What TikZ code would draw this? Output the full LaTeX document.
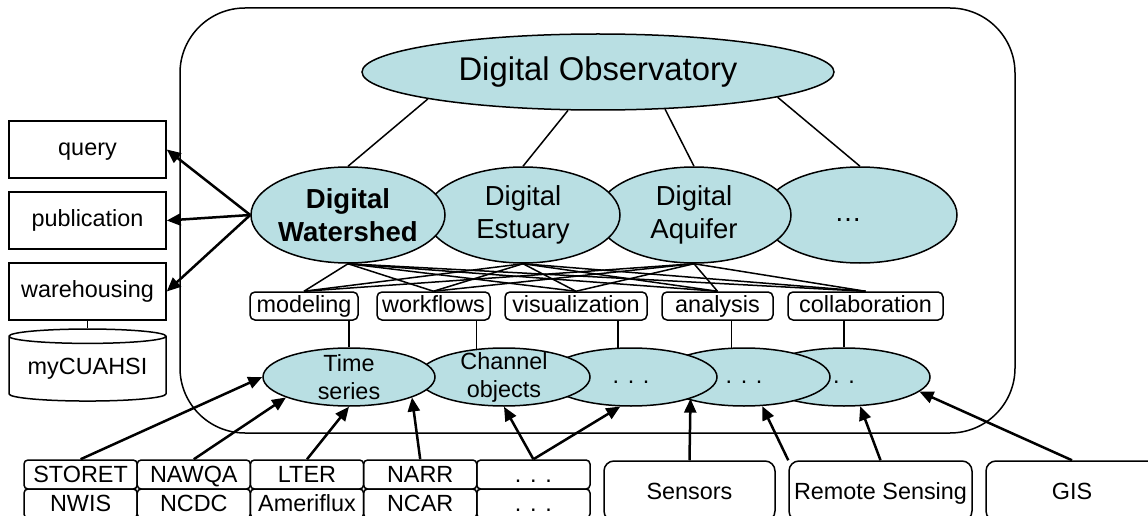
\documentclass[tikz,border=0pt]{standalone}
\usepackage{fontspec}
\setmainfont{Liberation Sans}
\usetikzlibrary{shapes.geometric,arrows.meta}
\definecolor{obsblue}{RGB}{185,223,227}

\begin{document}
\begin{tikzpicture}[
  x=1pt, y=-1pt,
  line width=1.5pt,
  every node/.style={inner sep=0pt, font=\fontsize{23.4}{28}\selectfont},
  oval/.style={ellipse, draw, fill=obsblue},
  bigoval/.style={oval, minimum width=472pt, minimum height=76pt,
    font=\fontsize{32.8}{39}\selectfont},
  midoval/.style={oval, minimum width=194pt, minimum height=96pt},
  lowoval/.style={oval, minimum width=172pt, minimum height=58pt},
  inside/.style={align=center, font=\fontsize{27.5}{33}\selectfont},
  boldinside/.style={inside, font=\fontsize{27.5}{33}\selectfont\bfseries},
  dots/.style={text height=17pt, text depth=5pt},
  plainbox/.style={draw, minimum width=157pt, minimum height=57pt,
    text height=17pt, text depth=5pt},
  toolbox/.style={draw, rounded corners=5pt, minimum height=28pt,
    text height=17pt, text depth=5pt},
  cell/.style={draw, rounded corners=4pt, minimum width=113.2pt,
    minimum height=29pt, text height=16.8pt, text depth=0pt},
  srcbox/.style={draw, rounded corners=10pt, minimum height=60pt,
    text height=16.8pt, text depth=0pt},
  feed/.style={line width=2.5pt, -{Triangle[length=14pt,width=12pt]}}]
  \useasboundingbox (0,0) rectangle (1148,516);

  % frame of the observatory
  \draw[rounded corners=65pt] (180,8) rectangle (1015,433);

  % outputs on the left
  \node[plainbox] (query) at (87.5,149.5) {query};
  \node[plainbox] (publication) at (87.5,220.5) {publication};
  \node[plainbox] (warehousing) at (87.5,291.5) {warehousing};
  \node[draw, cylinder, shape border rotate=90, aspect=0.12,
    minimum width=157pt, minimum height=72pt] (mycuahsi) at (87.5,369) {myCUAHSI};

  % observatory levels
  \node[bigoval] (obs) at (598,72) {Digital Observatory};

  \node[midoval, label={[inside,dots,xshift=-12pt]center:…}] (more) at (860,215) {};
  \node[midoval, label={[inside]center:Digital\\Aquifer}] (aquifer) at (694,215) {};
  \node[midoval, label={[inside]center:Digital\\Estuary}] (estuary) at (523,215) {};
  \node[midoval, label={[boldinside]center:Digital\\Watershed}] (watershed) at (348,215) {};

  \node[toolbox, minimum width=108pt] (modeling) at (304,306) {modeling};
  \node[toolbox, minimum width=113pt] (workflows) at (433.5,306) {workflows};
  \node[toolbox, minimum width=142pt] (visualization) at (576,306) {visualization};
  \node[toolbox, minimum width=111pt] (analysis) at (717.5,306) {analysis};
  \node[toolbox, minimum width=155pt] (collaboration) at (865.5,306) {collaboration};

  \node[lowoval, label={[dots]center:. .}] (dots3) at (844,377) {};
  \node[lowoval, label={[dots]center:. . .}] (dots2) at (744,377) {};
  \node[lowoval, label={[dots]center:. . .}] (dots1) at (631,377) {};
  \node[lowoval, label={[align=center]center:Channel\\objects}] (channel) at (504,377) {};
  \node[lowoval, label={[align=center]center:Time\\series}] (timeseries) at (349,377) {};

  % data sources
  \node[cell] (storet) at (80.6,474.5) {STORET};
  \node[cell] (nawqa) at (193.8,474.5) {NAWQA};
  \node[cell] (lter) at (307,474.5) {LTER};
  \node[cell] (narr) at (420.2,474.5) {NARR};
  \node[cell] (srcmore) at (533.4,474.5) {. . .};
  \node[cell] (nwis) at (80.6,503.5) {NWIS};
  \node[cell] (ncdc) at (193.8,503.5) {NCDC};
  \node[cell] (ameriflux) at (307,503.5) {Ameriflux};
  \node[cell] (ncar) at (420.2,503.5) {NCAR};
  \node[cell] (srcmore2) at (533.4,503.5) {. . .};

  \node[srcbox, minimum width=171pt] (sensors) at (689.5,491) {Sensors};
  \node[srcbox, minimum width=183pt] (remote) at (880.5,491) {Remote Sensing};
  \node[srcbox, minimum width=172pt] (gis) at (1072,491) {GIS};

  % links
  \draw (obs.189) -- (watershed.north);
  \draw (obs.232) -- (estuary.north);
  \draw (obs.-29) -- (aquifer.north);
  \draw (obs.-8) -- (more.north);
  \foreach \m in {watershed,estuary,aquifer}
    \foreach \t in {modeling,workflows,visualization,analysis,collaboration}
      \draw (\m.south) -- (\t.north);
  \draw (timeseries.north) -- (timeseries.north |- modeling.south);
  \draw (channel.134) -- (channel.134 |- workflows.south);
  \draw (dots1.114) -- (dots1.114 |- visualization.south);
  \draw (dots2.113) -- (dots2.113 |- analysis.south);
  \draw (dots3.north) -- (dots3.north |- collaboration.south);
  \draw (warehousing.south) -- (mycuahsi.north);

  \draw[feed] (watershed.west) -- (query.east);
  \draw[feed] (watershed.west) -- (publication.east);
  \draw[feed] (watershed.west) -- (warehousing.east);

  \draw[feed] (storet.north) -- (timeseries.west);
  \draw[feed] (nawqa.north) -- (timeseries.198);
  \draw[feed] (lter.north) -- (timeseries.south);
  \draw[feed] (narr.north) -- (timeseries.-18);
  \draw[feed] (srcmore.north) -- (channel.south);
  \draw[feed] (srcmore.north) -- (dots1.-110);
  \draw[feed] (sensors.north) -- (dots1.-20);
  \draw[feed] (remote.north west) -- (dots2.-58);
  \draw[feed] (remote.north) -- (dots3.-61);
  \draw[feed] (gis.north) -- (dots3.-11);
\end{tikzpicture}
\end{document}
